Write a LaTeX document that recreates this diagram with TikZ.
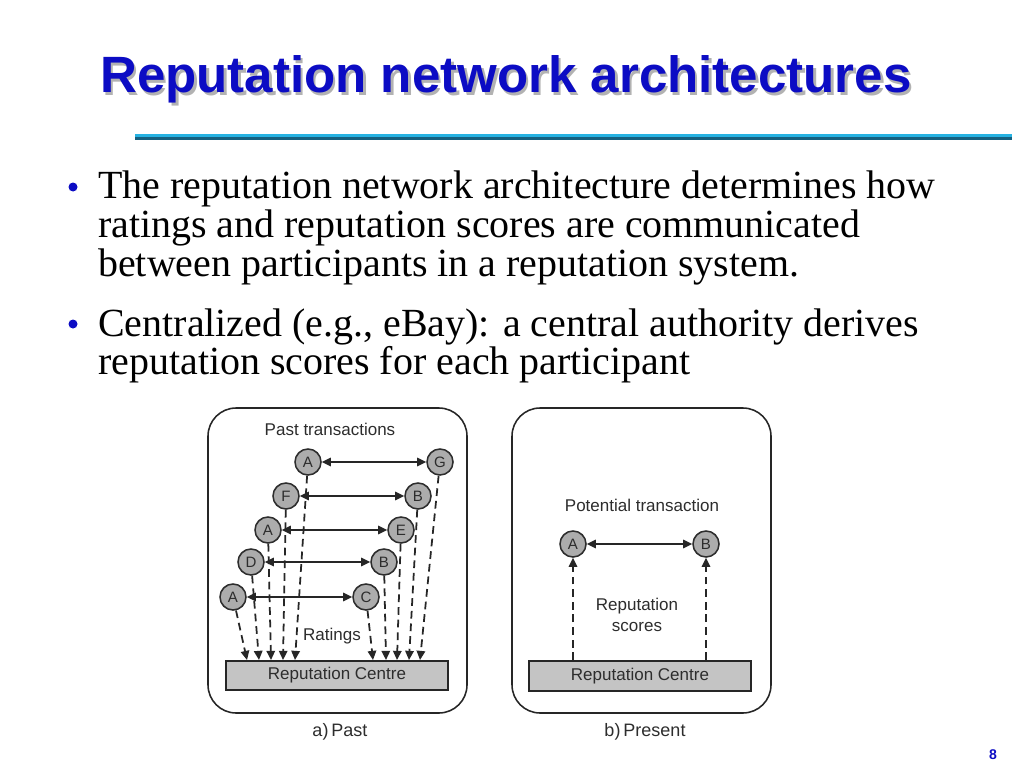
\documentclass[tikz,border=0pt]{standalone}
\usepackage{fontspec}
\setmainfont{Liberation Serif}
\setsansfont{Liberation Sans}
\usetikzlibrary{positioning,arrows.meta}
\definecolor{titleblue}{RGB}{12,12,196}
\definecolor{rulelight}{RGB}{38,178,226}
\definecolor{ruledark}{RGB}{22,96,128}
\definecolor{inkgray}{RGB}{45,45,45}
\definecolor{peerfill}{RGB}{172,172,172}
\definecolor{centrefill}{RGB}{196,196,196}
\tikzset{peer/.style = {circle,draw=inkgray,fill=peerfill,line width=1.1pt,minimum size=18.5pt,inner sep=0pt,
                        font=\sffamily\fontsize{10.7}{12}\selectfont,text=inkgray},
         centre/.style = {draw=black!85,fill=centrefill,line width=1.5pt,minimum width=158pt,minimum height=21pt,inner sep=0pt,
                          font=\sffamily\fontsize{12.1}{14}\selectfont,text=inkgray},
         panel/.style = {draw=black!85,rounded corners=20pt,line width=1.1pt},
         deal/.style = {{Triangle[length=6.5pt,width=6pt]}-{Triangle[length=6.5pt,width=6pt]},line width=1.3pt,draw=black!85},
         rating/.style = {-{Triangle[length=6.5pt,width=6pt]},dash pattern=on 5.5pt off 3.5pt,line width=1.25pt,draw=black!85},
         label/.style = {font=\sffamily\fontsize{12.1}{15}\selectfont,text=inkgray,inner sep=0pt},
         bulletline/.style = {anchor=base west,inner sep=0pt,font=\fontsize{28.4}{30}\selectfont}}

\begin{document}
\begin{tikzpicture}[x=0.025cm,y=-0.025cm]
    \useasboundingbox[fill=white] (0,0) rectangle (1024,768);

    % title
    \node [anchor=base west,inner sep=0pt,text=black!30,font=\sffamily\bfseries\fontsize{36.3}{40}\selectfont] (shadow) at (102.5,95.5) {Reputation network architectures};
    \node [anchor=base west,inner sep=0pt,text=titleblue,font=\sffamily\bfseries\fontsize{36.3}{40}\selectfont] (title) at (100,93) {Reputation network architectures};
    \draw [ruledark,line width=1.6pt] (135,138.5) -- (1012,138.5);
    \draw [rulelight,line width=2pt] (135,135.5) -- (1012,135.5);

    % bullets
    \fill [titleblue] (73,187) circle (4.5);
    \fill [titleblue] (73,324) circle (4.5);
    \node [bulletline] (l1) at (98,198) {The reputation network architecture determines how};
    \node [bulletline] (l2) at (98,237) {ratings and reputation scores are communicated};
    \node [bulletline] (l3) at (98,276) {between participants in a reputation system.};
    \node [bulletline] (l4) at (98,336) {Centralized (e.g., eBay): a central authority derives};
    \node [bulletline] (l5) at (98,374) {reputation scores for each participant};

    % a) past
    \draw [panel] (208,408) rectangle (467,713);
    \node [label] (past) at (330,429) {Past transactions};
    \node [peer] (A1) at (308,462) {A};
    \node [peer] (G1) at (440,462) {G};
    \node [peer] (F2) at (286,496) {F};
    \node [peer] (B2) at (418,496) {B};
    \node [peer] (A3) at (268,530) {A};
    \node [peer] (E3) at (401,530) {E};
    \node [peer] (D4) at (251,562) {D};
    \node [peer] (B4) at (384,562) {B};
    \node [peer] (A5) at (233,597) {A};
    \node [peer] (C5) at (366,597) {C};
    \node [centre] (rcL) at (337,675.5) {Reputation Centre};
    \node [label] (ratings) at (332,636) {Ratings};

    \draw [deal] (A1) -- (G1);
    \draw [deal] (F2) -- (B2);
    \draw [deal] (A3) -- (E3);
    \draw [deal] (D4) -- (B4);
    \draw [deal] (A5) -- (C5);

    \foreach \p/\x in {A5/247,D4/259,A3/271,F2/283,A1/295,C5/373,B4/386,E3/397,B2/409,G1/420}
    {
        \coordinate (t\p) at (\x,660);
        \draw [rating] (\p) -- (t\p);
    }

    % b) present
    \draw [panel] (512,408) rectangle (771,713);
    \node [label] (potential) at (642,505) {Potential transaction};
    \node [peer] (pA) at (573,544) {A};
    \node [peer] (pB) at (706,544) {B};
    \node [centre] (rcR) at (640,676) {Reputation Centre};
    \node [label,align=center] (scores) at (637,615) {Reputation\\scores};

    \draw [deal] (pA) -- (pB);
    \draw [rating] (pA |- rcR.north) -- (pA);
    \draw [rating] (pB |- rcR.north) -- (pB);

    % captions
    \node [label,font=\sffamily\fontsize{12.8}{15}\selectfont] (capa) at (340,732) {a)\,Past};
    \node [label,font=\sffamily\fontsize{12.8}{15}\selectfont] (capb) at (645,732) {b)\,Present};
    \node [text=titleblue,font=\sffamily\bfseries\fontsize{10}{12}\selectfont] (page) at (993,755) {8};
\end{tikzpicture}
\end{document}
